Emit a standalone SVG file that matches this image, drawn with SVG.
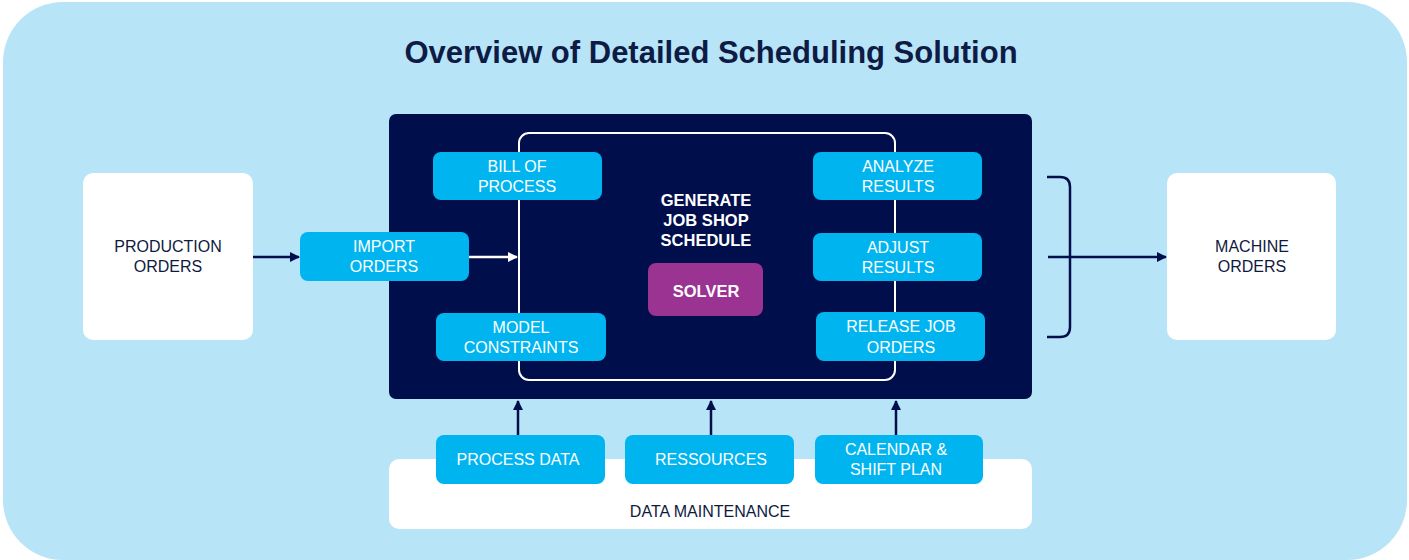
<svg xmlns="http://www.w3.org/2000/svg" width="1409" height="560" viewBox="0 0 1409 560">
<defs>
<style>
.bg{fill:#b8e4f8}
.dark{fill:#000f4b}
.white{fill:#ffffff}
.blue{fill:#00b5ef}
.purple{fill:#9b3393}
.t{font-family:"Liberation Sans","DejaVu Sans",sans-serif;font-size:16px;text-anchor:middle}
.tw{fill:#ffffff}
.td{fill:#101a40}
.tb{font-family:"Liberation Sans","DejaVu Sans",sans-serif;font-size:16.5px;font-weight:bold;fill:#ffffff;text-anchor:middle}
.title{font-family:"Liberation Sans","DejaVu Sans",sans-serif;font-size:31px;font-weight:bold;fill:#0d1b45;text-anchor:middle}
.cn{stroke:#000f4b;stroke-width:2.5;fill:none}
.cw{stroke:#ffffff;stroke-width:2.5;fill:none}
</style>
<marker id="an" viewBox="0 0 10 10" refX="9" refY="5" markerWidth="10" markerHeight="10" markerUnits="userSpaceOnUse" orient="auto"><path d="M0,0 L10,5 L0,10 z" fill="#000f4b"/></marker>
<marker id="aw" viewBox="0 0 10 10" refX="9" refY="5" markerWidth="10" markerHeight="10" markerUnits="userSpaceOnUse" orient="auto"><path d="M0,0 L10,5 L0,10 z" fill="#ffffff"/></marker>
</defs>
<rect class="bg" x="3" y="2" width="1404" height="558" rx="60"/>
<text class="title" x="711" y="63">Overview of Detailed Scheduling Solution</text>

<g id="data-maintenance"><rect class="white" x="389" y="459" width="643" height="70" rx="10"/><text class="t td" x="710" y="517">DATA MAINTENANCE</text></g>

<g id="main"><rect class="dark" x="389" y="114" width="643" height="285" rx="7"/>
<rect x="519" y="133" width="376" height="247" rx="10" fill="none" stroke="#ffffff" stroke-width="2"/>
<text class="tb" x="706" y="206">GENERATE</text><text class="tb" x="706" y="226">JOB SHOP</text><text class="tb" x="706" y="246">SCHEDULE</text></g>

<g id="solver"><rect class="purple" x="648" y="263" width="115" height="53" rx="8"/><text class="tb" x="706" y="297">SOLVER</text></g>

<g id="production-orders"><rect class="white" x="83" y="173" width="170" height="167" rx="10"/><text class="t td" x="168" y="252">PRODUCTION</text><text class="t td" x="168" y="272">ORDERS</text></g>
<g id="machine-orders"><rect class="white" x="1167" y="173" width="169" height="167" rx="10"/><text class="t td" x="1252" y="252">MACHINE</text><text class="t td" x="1252" y="272">ORDERS</text></g>

<g id="import-orders"><rect class="blue" x="300" y="232" width="169" height="49" rx="8"/><text class="t tw" x="384" y="252">IMPORT</text><text class="t tw" x="384" y="272">ORDERS</text></g>
<g id="bill-of-process"><rect class="blue" x="433" y="152" width="169" height="48" rx="8"/><text class="t tw" x="517" y="172">BILL OF</text><text class="t tw" x="517" y="192">PROCESS</text></g>
<g id="model-constraints"><rect class="blue" x="436" y="313" width="170" height="48" rx="8"/><text class="t tw" x="521" y="333">MODEL</text><text class="t tw" x="521" y="353">CONSTRAINTS</text></g>
<g id="analyze-results"><rect class="blue" x="813" y="152" width="169" height="48" rx="8"/><text class="t tw" x="898" y="172">ANALYZE</text><text class="t tw" x="898" y="192">RESULTS</text></g>
<g id="adjust-results"><rect class="blue" x="813" y="233" width="169" height="48" rx="8"/><text class="t tw" x="898" y="253">ADJUST</text><text class="t tw" x="898" y="273">RESULTS</text></g>
<g id="release-job-orders"><rect class="blue" x="816" y="312" width="169" height="49" rx="8"/><text class="t tw" x="901" y="332">RELEASE JOB</text><text class="t tw" x="901" y="353">ORDERS</text></g>

<g id="process-data"><rect class="blue" x="436" y="435" width="169" height="49" rx="8"/><text class="t tw" x="518" y="465">PROCESS DATA</text></g>
<g id="ressources"><rect class="blue" x="625" y="435" width="169" height="49" rx="8"/><text class="t tw" x="711" y="465">RESSOURCES</text></g>
<g id="calendar"><rect class="blue" x="815" y="435" width="168" height="49" rx="8"/><text class="t tw" x="896" y="455">CALENDAR &amp;</text><text class="t tw" x="896" y="475">SHIFT PLAN</text></g>

<g id="connectors">
<line class="cn" x1="253" y1="257" x2="299" y2="257" marker-end="url(#an)"/>
<line class="cw" x1="469" y1="257" x2="517" y2="257" marker-end="url(#aw)"/>
<path class="cn" d="M1047,177 H1060 Q1070,177 1070,187 V327 Q1070,337 1060,337 H1047"/>
<line class="cn" x1="1048" y1="257" x2="1166" y2="257" marker-end="url(#an)"/>
<line class="cn" x1="518" y1="435" x2="518" y2="401" marker-end="url(#an)"/>
<line class="cn" x1="711" y1="435" x2="711" y2="401" marker-end="url(#an)"/>
<line class="cn" x1="896" y1="435" x2="896" y2="401" marker-end="url(#an)"/>
</g>
</svg>
